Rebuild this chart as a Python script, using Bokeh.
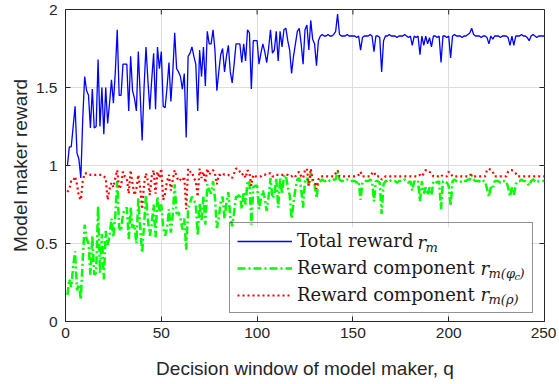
from bokeh.plotting import figure
from bokeh.models import (ColumnDataSource, FixedTicker, Legend,
                          LegendItem, Range1d)
from bokeh.core.properties import value
from bokeh.embed import file_html
from bokeh.resources import INLINE

# ---------------- data ----------------
q = list(range(1, 251))

total_reward = [
    1.00, 1.12, 1.12, 1.25, 1.38, 1.08, 1.04, 0.92, 1.30, 1.57,
    1.48, 1.45, 1.24, 1.49, 1.24, 1.25, 1.68, 1.25, 1.50, 1.20,
    1.50, 1.27, 1.40, 1.55, 1.40, 1.60, 1.87, 1.45, 1.45, 1.65,
    1.65, 1.65, 1.35, 1.70, 1.48, 1.43, 1.35, 1.73, 1.45, 1.16,
    1.50, 1.76, 1.55, 1.36, 1.55, 1.72, 1.36, 1.76, 1.62, 1.73,
    1.38, 1.37, 1.50, 1.66, 1.41, 1.60, 1.85, 1.62, 1.60, 1.57,
    1.49, 1.59, 1.18, 1.70, 1.72, 1.76, 1.70, 1.65, 1.35, 1.74,
    1.57, 1.76, 1.51, 1.86, 1.78, 1.78, 1.87, 1.74, 1.48, 1.60,
    1.71, 1.75, 1.60, 1.70, 1.77, 1.60, 1.53, 1.65, 1.78, 1.78,
    1.78, 1.66, 1.78, 1.67, 1.87, 1.85, 1.49, 1.80, 1.80, 1.80,
    1.65, 1.72, 1.78, 1.73, 1.66, 1.75, 1.87, 1.72, 1.74, 1.86,
    1.67, 1.86, 1.76, 1.87, 1.88, 1.80, 1.74, 1.59, 1.70, 1.78,
    1.86, 1.88, 1.78, 1.65, 1.87, 1.90, 1.74, 1.93, 1.81, 1.78,
    1.64, 1.80, 1.83, 1.84, 1.83, 1.83, 1.84, 1.83, 1.83, 1.84,
    1.86, 1.97, 1.84, 1.83, 1.83, 1.83, 1.84, 1.83, 1.83, 1.83,
    1.83, 1.82, 1.83, 1.74, 1.82, 1.83, 1.83, 1.83, 1.84, 1.83,
    1.73, 1.83, 1.83, 1.82, 1.60, 1.80, 1.83, 1.83, 1.84, 1.83,
    1.83, 1.83, 1.82, 1.83, 1.83, 1.83, 1.84, 1.83, 1.82, 1.83,
    1.77, 1.83, 1.82, 1.83, 1.71, 1.83, 1.77, 1.83, 1.78, 1.82,
    1.76, 1.83, 1.83, 1.82, 1.83, 1.66, 1.83, 1.83, 1.82, 1.83,
    1.69, 1.83, 1.84, 1.83, 1.83, 1.83, 1.82, 1.83, 1.83, 1.84,
    1.85, 1.88, 1.84, 1.83, 1.83, 1.83, 1.82, 1.83, 1.83, 1.82,
    1.78, 1.83, 1.81, 1.83, 1.83, 1.83, 1.82, 1.83, 1.83, 1.83,
    1.82, 1.77, 1.83, 1.77, 1.83, 1.83, 1.83, 1.84, 1.83, 1.83,
    1.82, 1.80, 1.83, 1.84, 1.83, 1.82, 1.83, 1.83, 1.83, 1.83,
]

reward_phi = [
    0.17, 0.27, 0.22, 0.35, 0.45, 0.20, 0.24, 0.14, 0.40, 0.62,
    0.53, 0.50, 0.30, 0.55, 0.30, 0.31, 0.74, 0.31, 0.56, 0.27,
    0.58, 0.49, 0.55, 0.66, 0.54, 0.68, 0.90, 0.60, 0.58, 0.69,
    0.72, 0.73, 0.53, 0.73, 0.60, 0.62, 0.50, 0.79, 0.60, 0.44,
    0.62, 0.81, 0.65, 0.55, 0.62, 0.75, 0.54, 0.80, 0.70, 0.75,
    0.60, 0.55, 0.60, 0.72, 0.57, 0.69, 0.88, 0.69, 0.70, 0.66,
    0.59, 0.66, 0.46, 0.72, 0.76, 0.80, 0.78, 0.75, 0.55, 0.76,
    0.65, 0.80, 0.62, 0.88, 0.84, 0.82, 0.90, 0.79, 0.60, 0.66,
    0.77, 0.80, 0.66, 0.76, 0.83, 0.67, 0.61, 0.70, 0.80, 0.80,
    0.82, 0.72, 0.83, 0.75, 0.90, 0.90, 0.62, 0.86, 0.87, 0.87,
    0.72, 0.79, 0.84, 0.79, 0.71, 0.80, 0.92, 0.79, 0.81, 0.92,
    0.73, 0.92, 0.82, 0.93, 0.94, 0.86, 0.81, 0.66, 0.76, 0.85,
    0.91, 0.92, 0.85, 0.73, 0.90, 0.92, 0.87, 0.95, 0.90, 0.88,
    0.79, 0.89, 0.90, 0.91, 0.90, 0.90, 0.91, 0.90, 0.90, 0.91,
    0.91, 0.96, 0.91, 0.90, 0.90, 0.90, 0.91, 0.90, 0.90, 0.90,
    0.90, 0.89, 0.90, 0.78, 0.89, 0.90, 0.90, 0.90, 0.91, 0.90,
    0.77, 0.90, 0.90, 0.89, 0.69, 0.88, 0.90, 0.90, 0.91, 0.90,
    0.90, 0.90, 0.89, 0.90, 0.90, 0.90, 0.91, 0.90, 0.89, 0.90,
    0.84, 0.90, 0.89, 0.90, 0.77, 0.90, 0.82, 0.86, 0.81, 0.86,
    0.81, 0.90, 0.90, 0.89, 0.90, 0.72, 0.90, 0.90, 0.89, 0.87,
    0.74, 0.90, 0.91, 0.90, 0.90, 0.90, 0.89, 0.90, 0.90, 0.91,
    0.91, 0.94, 0.91, 0.90, 0.90, 0.90, 0.89, 0.90, 0.90, 0.85,
    0.80, 0.86, 0.85, 0.90, 0.90, 0.90, 0.89, 0.90, 0.90, 0.90,
    0.86, 0.80, 0.86, 0.81, 0.88, 0.90, 0.90, 0.91, 0.90, 0.90,
    0.89, 0.87, 0.90, 0.91, 0.90, 0.89, 0.90, 0.90, 0.90, 0.90,
]

reward_rho = [
    0.83, 0.85, 0.90, 0.90, 0.93, 0.88, 0.80, 0.78, 0.90, 0.95,
    0.95, 0.95, 0.94, 0.94, 0.94, 0.94, 0.94, 0.94, 0.94, 0.93,
    0.92, 0.78, 0.85, 0.89, 0.86, 0.92, 0.97, 0.85, 0.87, 0.96,
    0.93, 0.92, 0.82, 0.97, 0.88, 0.81, 0.85, 0.94, 0.85, 0.72,
    0.88, 0.95, 0.90, 0.81, 0.93, 0.97, 0.82, 0.96, 0.92, 0.98,
    0.78, 0.82, 0.90, 0.94, 0.84, 0.91, 0.97, 0.93, 0.90, 0.91,
    0.90, 0.93, 0.72, 0.98, 0.96, 0.96, 0.92, 0.90, 0.80, 0.98,
    0.92, 0.96, 0.89, 0.98, 0.94, 0.96, 0.97, 0.95, 0.88, 0.94,
    0.94, 0.95, 0.94, 0.94, 0.94, 0.93, 0.92, 0.95, 0.98, 0.98,
    0.96, 0.94, 0.95, 0.92, 0.97, 0.95, 0.87, 0.94, 0.93, 0.93,
    0.93, 0.93, 0.94, 0.94, 0.95, 0.95, 0.95, 0.93, 0.93, 0.94,
    0.94, 0.94, 0.94, 0.94, 0.94, 0.94, 0.93, 0.93, 0.94, 0.93,
    0.95, 0.96, 0.93, 0.92, 0.97, 0.98, 0.87, 0.98, 0.91, 0.90,
    0.85, 0.91, 0.93, 0.93, 0.93, 0.93, 0.93, 0.93, 0.93, 0.93,
    0.95, 0.97, 0.93, 0.93, 0.93, 0.93, 0.93, 0.93, 0.93, 0.93,
    0.93, 0.93, 0.94, 0.96, 0.93, 0.93, 0.93, 0.93, 0.93, 0.95,
    0.96, 0.93, 0.93, 0.93, 0.91, 0.92, 0.93, 0.93, 0.93, 0.93,
    0.93, 0.93, 0.93, 0.93, 0.93, 0.93, 0.93, 0.93, 0.93, 0.93,
    0.93, 0.93, 0.93, 0.93, 0.94, 0.93, 0.95, 0.97, 0.97, 0.96,
    0.95, 0.93, 0.93, 0.93, 0.93, 0.94, 0.93, 0.93, 0.93, 0.96,
    0.95, 0.93, 0.93, 0.93, 0.93, 0.93, 0.93, 0.93, 0.93, 0.93,
    0.94, 0.94, 0.93, 0.93, 0.93, 0.93, 0.93, 0.93, 0.93, 0.97,
    0.98, 0.97, 0.96, 0.93, 0.93, 0.93, 0.93, 0.93, 0.93, 0.93,
    0.96, 0.97, 0.97, 0.96, 0.95, 0.93, 0.93, 0.93, 0.93, 0.93,
    0.93, 0.93, 0.93, 0.93, 0.93, 0.93, 0.93, 0.93, 0.93, 0.93,
]

x_ticks = [0, 50, 100, 150, 200, 250]
x_tick_labels = ["0", "50", "100", "150", "200", "250"]
y_ticks = [0, 0.5, 1, 1.5, 2]
y_tick_labels = ["0", "0.5", "1", "1.5", "2"]

x_label = "Decision window of model maker, q"
y_label = "Model maker reward"
legend_labels = ["Total reward", "Reward component", "Reward component"]
# symbol parts of the legend entries: r with its subscripts
legend_math = ["r", "m", "r", "m(φ", "c", ")", "r", "m(ρ)"]

# ---------------- layout / style constants ----------------
AX = "#262626"
GRID = "#dedede"
TICK_FONT = "Liberation Sans"
LEG_FONT = "DejaVu Serif"
X_MIN, X_MAX = 0, 250
Y_MIN, Y_MAX = 0, 2
W, H = 556, 383
B_LEFT, B_RIGHT, B_TOP, B_BOTTOM = 65, 12, 9, 62
PX_X = (W - B_LEFT - B_RIGHT) / (X_MAX - X_MIN)     # pixels per x unit
PX_Y = (H - B_TOP - B_BOTTOM) / (Y_MAX - Y_MIN)     # pixels per y unit

LEG_X, LEG_Y = 164, 8          # legend bottom-left, px from frame bottom-left
LEG_PAD, GLYPH_W, STANDOFF, LABEL_W = 7, 55, 5, 228
ROW_H, ROW_SP = 20, 6
LEG_W = 2 * LEG_PAD + GLYPH_W + STANDOFF + LABEL_W
LEG_H = 2 * LEG_PAD + 3 * ROW_H + 2 * ROW_SP

src = ColumnDataSource(dict(q=q, total=total_reward, phi=reward_phi, rho=reward_rho))

p = figure(width=W, height=H, x_range=Range1d(X_MIN, X_MAX),
           y_range=Range1d(Y_MIN, Y_MAX),
           output_backend="svg", toolbar_location=None,
           min_border_left=B_LEFT, min_border_right=B_RIGHT, min_border_top=B_TOP,
           min_border_bottom=B_BOTTOM, background_fill_color="white",
           border_fill_color="white")

p.outline_line_color = AX
p.outline_line_width = 1

for ax in (p.xaxis[0], p.yaxis[0]):
    ax.axis_line_color = AX
    ax.major_tick_line_color = AX
    ax.major_tick_in = 5
    ax.major_tick_out = 0
    ax.minor_tick_line_color = None
    ax.major_label_text_font = TICK_FONT
    ax.major_label_text_font_size = "15.5px"
    ax.major_label_text_color = AX
    ax.axis_label_text_font = TICK_FONT
    ax.axis_label_text_font_size = "19px"
    ax.axis_label_text_font_style = "normal"
    ax.axis_label_text_color = AX

p.xaxis[0].ticker = FixedTicker(ticks=x_ticks)
p.xaxis[0].major_label_overrides = {t: s for t, s in zip(x_ticks, x_tick_labels)}
p.xaxis[0].axis_label = x_label
p.xaxis[0].major_label_standoff = 6
p.xaxis[0].axis_label_standoff = 17

p.yaxis[0].ticker = FixedTicker(ticks=y_ticks)
p.yaxis[0].major_label_overrides = {t: s for t, s in zip(y_ticks, y_tick_labels)}
p.yaxis[0].axis_label = y_label
p.yaxis[0].major_label_standoff = 8
p.yaxis[0].axis_label_standoff = 2

p.xgrid.ticker = FixedTicker(ticks=x_ticks)
p.ygrid.ticker = FixedTicker(ticks=y_ticks)
p.xgrid.grid_line_color = GRID
p.ygrid.grid_line_color = GRID

# mirrored inward ticks on the top and right edges of the box
tick_dx = 5 / PX_X
tick_dy = 5 / PX_Y
p.segment(x0=x_ticks, y0=[Y_MAX] * len(x_ticks), x1=x_ticks,
          y1=[Y_MAX - tick_dy] * len(x_ticks), line_color=AX, line_width=1)
p.segment(x0=[X_MAX] * len(y_ticks), y0=y_ticks, x1=[X_MAX - tick_dx] * len(y_ticks),
          y1=y_ticks, line_color=AX, line_width=1)

# white panel behind the legend (the legend itself is drawn transparent)
p.quad(left=[LEG_X / PX_X], right=[(LEG_X + LEG_W) / PX_X],
       bottom=[LEG_Y / PX_Y], top=[(LEG_Y + LEG_H) / PX_Y],
       fill_color="white", line_color=None)

# series
r_total = p.line("q", "total", source=src, line_color="#0000ff", line_width=1.3)
r_phi = p.line("q", "phi", source=src, line_color="#00ff00", line_width=2.5,
               line_dash="8 3 2 3")
r_rho = p.line("q", "rho", source=src, line_color="#ff0000", line_width=2.2,
               line_dash="2 3")

legend = Legend(
    items=[LegendItem(label=legend_labels[0], renderers=[r_total]),
           LegendItem(label=legend_labels[1], renderers=[r_phi]),
           LegendItem(label=legend_labels[2], renderers=[r_rho])],
    location=(LEG_X, LEG_Y), orientation="vertical",
    glyph_width=GLYPH_W, glyph_height=ROW_H, label_height=ROW_H, label_width=LABEL_W,
    spacing=ROW_SP, padding=LEG_PAD, label_standoff=STANDOFF, margin=0,
    label_text_font=LEG_FONT, label_text_font_size="18px",
    label_text_color="#1a1a1a",
    border_line_color=AX, border_line_width=1,
    background_fill_alpha=0.0)
p.add_layout(legend)

# symbol parts of the legend labels, placed after each label text
row_px = [LEG_Y + LEG_H - LEG_PAD - ROW_H / 2 - i * (ROW_H + ROW_SP) + 2 for i in range(3)]
row_y = [r / PX_Y for r in row_px]
sub = 5 / PX_Y
subsub = 8 / PX_Y
text_x0 = LEG_X + LEG_PAD + GLYPH_W + STANDOFF           # px where label text starts
math_px = [text_x0 + d for d in (121, 129, 184, 192, 218, 223, 184, 192)]
math_x = [v / PX_X for v in math_px]
math_y = [row_y[0], row_y[0] - sub, row_y[1], row_y[1] - sub, row_y[1] - subsub,
          row_y[1] - sub, row_y[2], row_y[2] - sub]
math_size = ["18px", "13px", "18px", "13px", "10px", "13px", "18px", "13px"]
msrc = ColumnDataSource(dict(x=math_x, y=math_y, text=legend_math, size=math_size))
p.text(x="x", y="y", text="text", source=msrc, text_font=value(LEG_FONT),
       text_font_style="italic", text_font_size="size", text_color="#1a1a1a",
       text_baseline="middle", text_align="left")

open("out.html", "w").write(file_html(p, INLINE))
